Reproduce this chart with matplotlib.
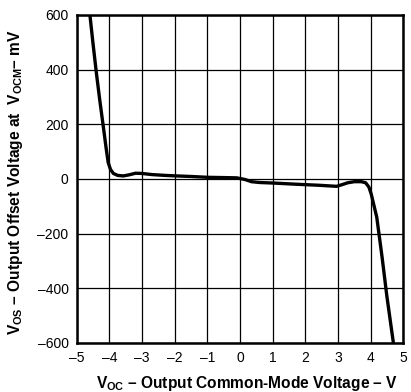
import matplotlib
matplotlib.use("Agg")
import matplotlib.pyplot as plt

plt.rcParams['font.family'] = ['Liberation Sans', 'DejaVu Sans']
plt.rcParams['mathtext.fontset'] = 'custom'
plt.rcParams['mathtext.rm'] = 'Liberation Sans:bold'
plt.rcParams['mathtext.it'] = 'Liberation Sans:bold'
plt.rcParams['mathtext.bf'] = 'Liberation Sans:bold'

voc = [-4.60, -4.50, -4.40, -4.30, -4.19, -4.10, -4.04, -3.97, -3.88, -3.75, -3.58,
       -3.40, -3.20, -3.00, -2.70, -2.30, -1.94, -1.50, -1.00, -0.50, -0.10,
       0.15, 0.35, 0.60, 1.02, 1.50, 1.84, 2.40, 2.96, 3.15, 3.30, 3.50, 3.72,
       3.85, 3.95, 4.02, 4.10, 4.19, 4.35, 4.50, 4.70]
vos = [600, 490, 386, 290, 192, 110, 60, 35, 20, 13, 11,
       15, 21, 20, 16, 13, 11, 9, 6, 5, 4,
       -2, -10, -13, -15, -18, -20, -23, -27, -20, -14, -10, -10,
       -14, -30, -55, -95, -140, -283, -429, -600]

xticks = [-5, -4, -3, -2, -1, 0, 1, 2, 3, 4, 5]
yticks = [-600, -400, -200, 0, 200, 400, 600]

fig = plt.figure(figsize=(4.11, 3.92), dpi=100)
ax = fig.add_axes([0.187, 0.125, 0.794, 0.837])
ax.plot(voc, vos, color='black', lw=2.4, solid_capstyle='butt',
        solid_joinstyle='round', zorder=3)
ax.set_xlim(-5, 5)
ax.set_ylim(-600, 600)
ax.set_xticks(xticks)
ax.set_yticks(yticks)
ax.set_xticklabels(['\u2013' + str(-t) if t < 0 else str(t) for t in xticks], fontsize=10)
ax.set_yticklabels(['\u2013' + str(-t) if t < 0 else str(t) for t in yticks], fontsize=10)
ax.grid(True, color='black', lw=0.9)
ax.tick_params(length=0, pad=6)
for s in ax.spines.values():
    s.set_linewidth(1.8)
ax.set_xlabel(r'$\mathrm{V}_\mathrm{OC}$' + ' \u2013 Output Common-Mode Voltage \u2013 V',
              fontsize=11.2, fontweight='bold')
ax.xaxis.set_label_coords(0.52, -0.095)
ax.set_ylabel(r'$\mathrm{V}_\mathrm{OS}$' + ' \u2013 Output Offset Voltage at  '
              + r'$\mathrm{V}_\mathrm{OCM}$' + '\u2013 mV',
              fontsize=11.2, fontweight='bold')
ax.yaxis.set_label_coords(-0.16, 0.49)
fig.savefig('out.png', dpi=100)
